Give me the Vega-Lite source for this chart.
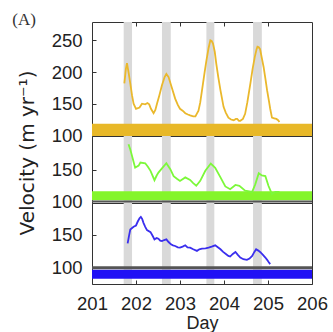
{
  "$schema": "https://vega.github.io/schema/vega-lite/v6.json",
  "padding": {"left": 12, "top": 10, "right": 5, "bottom": 5},
  "background": "white",
  "bounds": "flush",
  "spacing": 0,
  "title": {"text": "(A)", "anchor": "start", "frame": "bounds", "font": "Liberation Serif", "fontSize": 17, "fontWeight": "normal", "color": "#333333", "dx": -4.7, "dy": 11.9, "offset": 4},
  "config": {
    "view": {"stroke": "#333333", "strokeWidth": 1},
    "axis": {"labelFont": "Liberation Sans", "labelFontSize": 18.5, "labelColor": "#222222", "tickColor": "#333333", "tickWidth": 1, "domain": false, "grid": false, "labelFlush": false, "tickSize": -4}
  },
  "datasets": {
    "bands": [
      {"start": 201.72, "end": 201.91},
      {"start": 202.59, "end": 202.79},
      {"start": 203.6, "end": 203.78},
      {"start": 204.66, "end": 204.86}
    ],
    "band_top": [{"lo": 99, "hi": 118.5}],
    "band_mid": [{"lo": 102, "hi": 116}],
    "band_bot": [{"lo": 83.5, "hi": 97}],
    "ref100": [{"v": 100}],
    "top": [
      {"day": 201.735, "v": 182}, {"day": 201.77, "v": 205}, {"day": 201.795, "v": 214}, {"day": 201.83, "v": 200},
      {"day": 201.87, "v": 182}, {"day": 201.91, "v": 163}, {"day": 201.945, "v": 150}, {"day": 202.0, "v": 142},
      {"day": 202.08, "v": 144}, {"day": 202.136, "v": 150}, {"day": 202.21, "v": 149}, {"day": 202.26, "v": 151},
      {"day": 202.3, "v": 149}, {"day": 202.34, "v": 142}, {"day": 202.4, "v": 135}, {"day": 202.44, "v": 140},
      {"day": 202.477, "v": 150}, {"day": 202.53, "v": 163}, {"day": 202.59, "v": 179}, {"day": 202.65, "v": 192},
      {"day": 202.69, "v": 197}, {"day": 202.74, "v": 192}, {"day": 202.82, "v": 174}, {"day": 202.89, "v": 158},
      {"day": 202.95, "v": 148}, {"day": 203.0, "v": 142}, {"day": 203.06, "v": 139}, {"day": 203.12, "v": 135},
      {"day": 203.18, "v": 133}, {"day": 203.23, "v": 131.5}, {"day": 203.3, "v": 130}, {"day": 203.35, "v": 130},
      {"day": 203.42, "v": 139}, {"day": 203.46, "v": 152}, {"day": 203.5, "v": 171}, {"day": 203.56, "v": 200},
      {"day": 203.6, "v": 218}, {"day": 203.65, "v": 238}, {"day": 203.69, "v": 250}, {"day": 203.72, "v": 249},
      {"day": 203.75, "v": 245}, {"day": 203.79, "v": 232}, {"day": 203.825, "v": 213}, {"day": 203.87, "v": 192},
      {"day": 203.92, "v": 171}, {"day": 203.99, "v": 145}, {"day": 204.04, "v": 136}, {"day": 204.1, "v": 128},
      {"day": 204.16, "v": 125}, {"day": 204.22, "v": 124}, {"day": 204.27, "v": 126}, {"day": 204.3, "v": 126},
      {"day": 204.34, "v": 123}, {"day": 204.37, "v": 123}, {"day": 204.43, "v": 126}, {"day": 204.48, "v": 134},
      {"day": 204.53, "v": 152}, {"day": 204.6, "v": 182}, {"day": 204.65, "v": 205}, {"day": 204.7, "v": 224},
      {"day": 204.74, "v": 236}, {"day": 204.76, "v": 240}, {"day": 204.79, "v": 239}, {"day": 204.82, "v": 236},
      {"day": 204.86, "v": 222}, {"day": 204.9, "v": 208}, {"day": 204.94, "v": 190}, {"day": 204.98, "v": 171},
      {"day": 205.02, "v": 155}, {"day": 205.05, "v": 142}, {"day": 205.09, "v": 128}, {"day": 205.14, "v": 127},
      {"day": 205.19, "v": 126}, {"day": 205.23, "v": 124}, {"day": 205.26, "v": 121}
    ],
    "mid": [
      {"day": 201.83, "v": 190.6}, {"day": 201.87, "v": 182}, {"day": 201.91, "v": 172}, {"day": 201.98, "v": 153.3},
      {"day": 202.06, "v": 156.6}, {"day": 202.1, "v": 161.5}, {"day": 202.21, "v": 160.4}, {"day": 202.27, "v": 155},
      {"day": 202.33, "v": 148.4}, {"day": 202.42, "v": 133.6}, {"day": 202.47, "v": 141}, {"day": 202.51, "v": 145.6},
      {"day": 202.59, "v": 152.2}, {"day": 202.69, "v": 160.4}, {"day": 202.78, "v": 151}, {"day": 202.855, "v": 140},
      {"day": 202.93, "v": 136}, {"day": 203.0, "v": 132.5}, {"day": 203.12, "v": 138}, {"day": 203.23, "v": 134},
      {"day": 203.3, "v": 129}, {"day": 203.37, "v": 124.8}, {"day": 203.46, "v": 132.5}, {"day": 203.575, "v": 148.4},
      {"day": 203.7, "v": 160}, {"day": 203.8, "v": 153.3}, {"day": 203.92, "v": 138}, {"day": 204.03, "v": 123.7},
      {"day": 204.14, "v": 119.3}, {"day": 204.26, "v": 126}, {"day": 204.35, "v": 124.8}, {"day": 204.48, "v": 117},
      {"day": 204.64, "v": 115}, {"day": 204.71, "v": 127}, {"day": 204.79, "v": 144.5}, {"day": 204.86, "v": 141},
      {"day": 204.94, "v": 140}, {"day": 205.01, "v": 124.8}, {"day": 205.09, "v": 111.6}, {"day": 205.17, "v": 115},
      {"day": 205.26, "v": 115}
    ],
    "bot": [
      {"day": 201.81, "v": 137}, {"day": 201.84, "v": 148}, {"day": 201.87, "v": 158}, {"day": 201.945, "v": 162},
      {"day": 202.0, "v": 164}, {"day": 202.04, "v": 170}, {"day": 202.08, "v": 175}, {"day": 202.11, "v": 177},
      {"day": 202.14, "v": 174}, {"day": 202.17, "v": 168}, {"day": 202.21, "v": 162}, {"day": 202.25, "v": 157},
      {"day": 202.33, "v": 154}, {"day": 202.38, "v": 148}, {"day": 202.42, "v": 143}, {"day": 202.47, "v": 145},
      {"day": 202.51, "v": 144}, {"day": 202.55, "v": 141}, {"day": 202.59, "v": 140.5}, {"day": 202.64, "v": 142},
      {"day": 202.69, "v": 143}, {"day": 202.74, "v": 139}, {"day": 202.795, "v": 135.5}, {"day": 202.84, "v": 134},
      {"day": 202.89, "v": 133}, {"day": 202.95, "v": 131}, {"day": 203.0, "v": 130.5}, {"day": 203.06, "v": 132},
      {"day": 203.12, "v": 134}, {"day": 203.17, "v": 131}, {"day": 203.23, "v": 130.5}, {"day": 203.3, "v": 128},
      {"day": 203.385, "v": 125.6}, {"day": 203.44, "v": 128}, {"day": 203.5, "v": 129}, {"day": 203.58, "v": 129.5},
      {"day": 203.65, "v": 130.5}, {"day": 203.72, "v": 132}, {"day": 203.8, "v": 134}, {"day": 203.86, "v": 131},
      {"day": 203.92, "v": 128}, {"day": 203.98, "v": 124}, {"day": 204.05, "v": 120.5}, {"day": 204.1, "v": 118},
      {"day": 204.14, "v": 117}, {"day": 204.2, "v": 121}, {"day": 204.26, "v": 124}, {"day": 204.31, "v": 120},
      {"day": 204.37, "v": 115.5}, {"day": 204.44, "v": 113}, {"day": 204.52, "v": 112}, {"day": 204.58, "v": 114},
      {"day": 204.64, "v": 118}, {"day": 204.69, "v": 124}, {"day": 204.73, "v": 128}, {"day": 204.78, "v": 126},
      {"day": 204.82, "v": 124}, {"day": 204.88, "v": 120}, {"day": 204.94, "v": 115.5}, {"day": 204.98, "v": 112},
      {"day": 205.01, "v": 109}, {"day": 205.05, "v": 105.5}
    ]
  },
  "resolve": {"scale": {"x": "independent", "y": "independent"}},
  "vconcat": [
    {
      "width": 220,
      "height": 114,
      "layer": [
        {
          "data": {"name": "bands"},
          "mark": {"type": "rect", "color": "#d9d9d9"},
          "encoding": {
            "x": {"field": "start", "type": "quantitative", "scale": {"domain": [201, 206], "nice": false}, "axis": {"orient": "top", "values": [202, 203, 204, 205], "labels": false, "title": null}},
            "x2": {"field": "end"}
          }
        },
        {
          "data": {"name": "band_top"},
          "mark": {"type": "rect", "color": "#E8B828"},
          "encoding": {
            "y": {"field": "lo", "type": "quantitative", "scale": {"domain": [99, 279], "nice": false, "zero": false}, "axis": {"values": [100, 150, 200, 250], "title": null, "labelPadding": 14}},
            "y2": {"field": "hi"}
          }
        },
        {
          "data": {"name": "top"},
          "mark": {"type": "line", "color": "#EAB82C", "strokeWidth": 1.8},
          "encoding": {
            "x": {"field": "day", "type": "quantitative", "scale": {"domain": [201, 206], "nice": false}, "axis": {"orient": "top", "values": [202, 203, 204, 205], "labels": false, "title": null}},
            "y": {"field": "v", "type": "quantitative", "scale": {"domain": [99, 279], "nice": false, "zero": false}, "axis": {"values": [100, 150, 200, 250], "title": null, "labelPadding": 14}}
          }
        }
      ]
    },
    {
      "width": 220,
      "height": 67,
      "layer": [
        {
          "data": {"name": "bands"},
          "mark": {"type": "rect", "color": "#d9d9d9"},
          "encoding": {
            "x": {"field": "start", "type": "quantitative", "scale": {"domain": [201, 206], "nice": false}, "axis": {"orient": "top", "values": [], "labels": false, "title": null, "ticks": false}},
            "x2": {"field": "end"}
          }
        },
        {
          "data": {"name": "band_mid"},
          "mark": {"type": "rect", "color": "#84F52A"},
          "encoding": {
            "y": {"field": "lo", "type": "quantitative", "scale": {"domain": [97.5, 203.5], "nice": false, "zero": false}, "axis": {"values": [100, 150], "labelPadding": 14, "title": "Velocity (m yr⁻¹)", "titleFont": "DejaVu Sans", "titleFontSize": 20, "titleFontWeight": "normal", "titleColor": "#222222", "titleX": -54.5, "titleY": 16.5}},
            "y2": {"field": "hi"}
          }
        },
        {
          "data": {"name": "ref100"},
          "mark": {"type": "rule", "color": "#555555", "strokeWidth": 2},
          "encoding": {
            "y": {"field": "v", "type": "quantitative", "scale": {"domain": [97.5, 203.5], "nice": false, "zero": false}, "axis": {"values": [100, 150], "labelPadding": 14, "title": "Velocity (m yr⁻¹)", "titleFont": "DejaVu Sans", "titleFontSize": 20, "titleFontWeight": "normal", "titleColor": "#222222", "titleX": -54.5, "titleY": 16.5}}
          }
        },
        {
          "data": {"name": "mid"},
          "mark": {"type": "line", "color": "#7CF83A", "strokeWidth": 1.8},
          "encoding": {
            "x": {"field": "day", "type": "quantitative", "scale": {"domain": [201, 206], "nice": false}, "axis": {"orient": "top", "values": [], "labels": false, "title": null, "ticks": false}},
            "y": {"field": "v", "type": "quantitative", "scale": {"domain": [97.5, 203.5], "nice": false, "zero": false}, "axis": {"values": [100, 150], "labelPadding": 14, "title": "Velocity (m yr⁻¹)", "titleFont": "DejaVu Sans", "titleFontSize": 20, "titleFontWeight": "normal", "titleColor": "#222222", "titleX": -54.5, "titleY": 16.5}}
          }
        }
      ]
    },
    {
      "width": 220,
      "height": 81,
      "layer": [
        {
          "data": {"name": "bands"},
          "mark": {"type": "rect", "color": "#d9d9d9"},
          "encoding": {
            "x": {"field": "start", "type": "quantitative", "scale": {"domain": [201, 206], "nice": false}, "axis": {"orient": "bottom", "values": [201, 202, 203, 204, 205, 206], "format": "d", "labelPadding": 14, "title": "Day", "titleFont": "Liberation Sans", "titleFontSize": 18, "titleFontWeight": "normal", "titleColor": "#222222", "titlePadding": 2}},
            "x2": {"field": "end"}
          }
        },
        {
          "data": {"name": "band_bot"},
          "mark": {"type": "rect", "color": "#2010F5"},
          "encoding": {
            "y": {"field": "lo", "type": "quantitative", "scale": {"domain": [75.5, 198], "nice": false, "zero": false}, "axis": {"values": [100, 150], "title": null, "labelPadding": 14}},
            "y2": {"field": "hi"}
          }
        },
        {
          "data": {"name": "ref100"},
          "mark": {"type": "rule", "color": "#555555", "strokeWidth": 3},
          "encoding": {
            "y": {"field": "v", "type": "quantitative", "scale": {"domain": [75.5, 198], "nice": false, "zero": false}, "axis": {"values": [100, 150], "title": null, "labelPadding": 14}}
          }
        },
        {
          "data": {"name": "bot"},
          "mark": {"type": "line", "color": "#3A2EEE", "strokeWidth": 1.8},
          "encoding": {
            "x": {"field": "day", "type": "quantitative", "scale": {"domain": [201, 206], "nice": false}, "axis": {"orient": "bottom", "values": [201, 202, 203, 204, 205, 206], "format": "d", "labelPadding": 14, "title": "Day", "titleFont": "Liberation Sans", "titleFontSize": 18, "titleFontWeight": "normal", "titleColor": "#222222", "titlePadding": 2}},
            "y": {"field": "v", "type": "quantitative", "scale": {"domain": [75.5, 198], "nice": false, "zero": false}, "axis": {"values": [100, 150], "title": null, "labelPadding": 14}}
          }
        }
      ]
    }
  ]
}
